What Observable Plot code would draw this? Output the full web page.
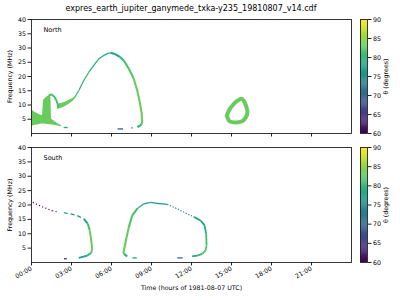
<!DOCTYPE html>
<html><head><meta charset="utf-8">
<script src="https://cdn.jsdelivr.net/npm/d3@7"></script>
<script src="https://cdn.jsdelivr.net/npm/@observablehq/plot@0.6"></script>
<style>
body{margin:0;background:#fff;font-family:"DejaVu Sans",sans-serif;}
#fig{position:relative;width:400px;height:300px;overflow:hidden;background:#fff}
#fig > *{position:absolute}
#title{left:0;top:4px;width:382px;text-align:center;font-size:8px;color:#000;white-space:nowrap}
</style></head><body><div id="fig"><div id="title">expres_earth_jupiter_ganymede_txka-y235_19810807_v14.cdf</div></div>
<script>
// ---------- DATA ----------
const xTicks = [0, 3, 6, 9, 12, 15, 18, 21];
const yTicks = [5, 10, 15, 20, 25, 30, 35, 40];
const cbTicks = [60, 65, 70, 75, 80, 85, 90];
const thetaDomain = [60, 90];

// North: thick blob at start of day
const nBlobT  = [0, 0.15, 0.3, 0.45, 0.6, 0.75, 0.83, 0.9, 1.05, 1.2, 1.35, 1.45, 1.5, 1.7, 1.9, 2.1, 2.25];
const nBlobLo = [2.5, 2.7, 2.9, 3.0, 3.2, 3.3, 3.3, 3.3, 3.3, 3.2, 3.1, 3.1, 3.0, 2.9, 2.7, 2.5, 2.4];
const nBlobHi = [8.4, 7.8, 7.3, 7.0, 6.6, 6.3, 6.3, 11.6, 12.4, 13.0, 13.3, 13.3, 5.0, 4.4, 3.7, 3.1, 2.7];
const nBlobTheta = 83;
// North: hook at the top of the blob
const nHookT = [1.3, 1.5, 1.72, 1.88, 1.97, 2.0];
const nHookF = [13.4, 13.7, 12.9, 11.5, 10.2, 9.2];
const nHookTheta = 81;
// North: band rising out of the hook
const nBandT  = [1.95, 2.2, 2.5, 2.8, 3.1, 3.25];
const nBandLo = [8.4, 8.8, 9.4, 10.2, 11.2, 11.9];
const nBandHi = [10.2, 10.5, 10.9, 11.6, 12.3, 12.7];
const nBandTheta = 83;
// North: big arc
const nArcT = [3.2, 3.55, 3.92, 4.3, 4.67, 5.05, 5.42, 5.75, 5.95, 6.3, 6.62, 6.92, 7.3, 7.67, 7.93, 8.12, 8.25, 8.3, 8.25, 8.12, 7.95];
const nArcF = [12.4, 15.1, 18.6, 21.5, 23.9, 26.2, 27.4, 28.1, 28.3, 27.8, 26.9, 25.6, 22.7, 19.2, 15.1, 11.0, 7.5, 4.0, 3.2, 2.7, 2.3];
const nArcTheta = [81, 80, 80, 79, 79, 78, 78, 77, 77, 78, 80, 81, 82, 83, 83, 83, 83, 83, 80, 78, 76];
// North: short dashes near the bottom
const nDashT1 = [2.45, 6.5, 7.5];
const nDashT2 = [2.75, 6.9, 7.62];
const nDashF  = [2.1, 1.6, 2.0];
const nDashTheta = [78, 68, 76];
// North: ring near 15h
const nRingT = [14.65, 14.85, 15.3, 15.75, 16.05, 16.2, 16.1, 15.95, 15.75, 15.45, 15.1, 14.8, 14.65];
const nRingF = [6.3, 4.3, 3.9, 4.2, 5.5, 7.5, 9.5, 11.3, 12.2, 11.5, 10.0, 8.0, 6.3];
const nRingTheta = 83;

// South: dotted purple trail
const sTrailT = [0.1, 0.5, 0.85, 1.18, 1.55, 1.93];
const sTrailF = [20.9, 20.0, 19.3, 18.7, 18.0, 17.6];
const sTrailTheta = [61, 61, 61, 61, 62, 63];
// South: first curve
const sCurveT = [2.42, 2.93, 3.43, 3.92, 4.22, 4.37, 4.48, 4.55, 4.48, 4.18, 3.55];
const sCurveF = [17.3, 16.9, 16.3, 15.2, 13.5, 11.1, 7.7, 4.8, 3.4, 2.4, 1.6];
const sCurveTheta = [75, 75, 76, 78, 81, 83, 83, 83, 80, 77, 75];
// South: second arc
const sArcT = [7.18, 6.95, 6.9, 6.98, 7.13, 7.3, 7.55, 7.93, 8.42, 8.93, 9.43, 10.18, 10.93, 11.68, 12.2, 12.68, 12.98, 13.1, 13.13, 13.05, 12.8, 12.43, 12.05];
const sArcF = [2.1, 3.0, 3.6, 5.3, 8.8, 12.3, 16.3, 18.7, 20.4, 20.9, 20.6, 20.2, 18.7, 16.9, 15.8, 14.6, 12.9, 10.0, 5.9, 4.2, 3.0, 2.4, 2.1];
const sArcTheta = [79, 83, 83, 83, 83, 82, 81, 79, 77, 76, 76, 75, 75, 75, 76, 77, 79, 81, 82, 82, 80, 78, 77];
// South: short dashes near the bottom
const sDashT1 = [2.48, 7.62, 10.97];
const sDashT2 = [2.68, 7.93, 11.38];
const sDashF  = [1.3, 1.6, 1.6];
const sDashTheta = [62, 77, 71];

// ---------- BUILD ----------
const pts = (T, F, Th) => T.map((t, i) => ({t, f: F[i], theta: Array.isArray(Th) ? Th[i] : Th}));
const band = (T, Lo, Hi, th) => T.map((t, i) => ({t, lo: Lo[i], hi: Hi[i], theta: th}));
const dashes = (A, B, F, Th) => A.map((a, i) => ({t1: a, t2: B[i], f: F[i], theta: Th[i]}));

const color = {type: "linear", scheme: "viridis", domain: thetaDomain};
const font = "DejaVu Sans";
const ink = "#222";
const fmtTime = d => String(d).padStart(2, "0") + ":00";

function lineSeg(rows, w, extra = {}) {
  return Plot.line(rows, {x: "t", y: "f", stroke: "theta", z: null, strokeWidth: w, strokeLinecap: "butt", ...extra});
}

function panel({name, top, height, mt, mb, marks, labels}) {
  const p = Plot.plot({
    width: 400, height, marginLeft: 31, marginRight: 49, marginTop: mt, marginBottom: mb,
    x: {domain: [0, 24]}, y: {domain: [0, 40]}, color,
    style: {fontFamily: font, fontSize: "6.5px", background: "none", color: "#000"},
    marks: [
      ...marks,
      Plot.text([name], {frameAnchor: "top-left", dx: 12, dy: 8, fontSize: 6.5, fill: "#000"}),
      Plot.frame({stroke: ink, strokeWidth: 0.9}),
      Plot.axisY({ticks: yTicks, tickSize: 3.5, tickPadding: 2, stroke: ink, fontSize: 6.3,
        label: "Frequency (MHz)", labelAnchor: "center", labelArrow: "none", labelOffset: 24}),
      labels
        ? Plot.axisX({ticks: xTicks, tickSize: 3.5, tickPadding: 2, stroke: ink, fontSize: 6.3,
            tickFormat: fmtTime, tickRotate: -30,
            label: "Time (hours of 1981-08-07 UTC)", labelAnchor: "center", labelArrow: "none", labelOffset: 27})
        : Plot.axisX({ticks: xTicks, tickSize: 3.5, stroke: ink, tickFormat: () => "", label: null})
    ]
  });
  p.style.left = "0px"; p.style.top = top + "px";
  return p;
}

function colorbar(top, height, mt, mb) {
  const step = 0.25;
  const steps = d3.range(thetaDomain[0], thetaDomain[1], step);
  const p = Plot.plot({
    width: 60, height, marginLeft: 20, marginRight: 33, marginTop: mt, marginBottom: mb,
    x: {domain: [0, 1], axis: null}, y: {domain: thetaDomain}, color,
    style: {fontFamily: font, fontSize: "6.5px", background: "none", color: "#000"},
    marks: [
      Plot.rect(steps, {x1: () => 0, x2: () => 1, y1: d => d, y2: d => Math.min(d + step * 1.3, thetaDomain[1]), fill: d => d + step / 2}),
      Plot.frame({stroke: ink, strokeWidth: 0.9}),
      Plot.axisY({anchor: "right", ticks: cbTicks, tickSize: 3.5, tickPadding: 2, stroke: ink, fontSize: 6.3,
        label: "θ (degrees)", labelAnchor: "center", labelArrow: "none", labelOffset: 20})
    ]
  });
  p.style.left = "340px"; p.style.top = top + "px";
  return p;
}

const arcN = pts(nArcT, nArcF, nArcTheta);
const north = panel({
  name: "North", top: 0, height: 140, mt: 19, mb: 7, labels: false,
  marks: [
    Plot.areaY(band(nBlobT, nBlobLo, nBlobHi, nBlobTheta), {x: "t", y1: "lo", y2: "hi", fill: "theta", z: null}),
    Plot.areaY(band(nBandT, nBandLo, nBandHi, nBandTheta), {x: "t", y1: "lo", y2: "hi", fill: "theta", z: null}),
    lineSeg(pts(nHookT, nHookF, nHookTheta), 1.9),
    lineSeg(arcN.slice(0, 9), 1.3),
    lineSeg(arcN.slice(8), 2.1),
    Plot.line(pts(nRingT, nRingF, nRingTheta), {x: "t", y: "f", stroke: "theta", strokeWidth: 4, curve: "catmull-rom-closed"}),
    Plot.ruleY(dashes(nDashT1, nDashT2, nDashF, nDashTheta), {y: "f", x1: "t1", x2: "t2", stroke: "theta", strokeWidth: 1.3})
  ]
});

const arcS = pts(sArcT, sArcF, sArcTheta);
const curveS = pts(sCurveT, sCurveF, sCurveTheta);
const south = panel({
  name: "South", top: 140, height: 160, mt: 7, mb: 38, labels: true,
  marks: [
    lineSeg(pts(sTrailT, sTrailF, sTrailTheta), 1.2, {strokeDasharray: "1.2,2.2"}),
    lineSeg(curveS.slice(0, 4), 1.2, {strokeDasharray: "4,3"}),
    lineSeg(curveS.slice(3), 2.0),
    lineSeg(arcS.slice(0, 8), 2.1),
    lineSeg(arcS.slice(7, 12), 1.3),
    lineSeg(arcS.slice(11, 15), 1.1, {strokeDasharray: "1.3,1.6"}),
    lineSeg(arcS.slice(14), 1.8),
    Plot.ruleY(dashes(sDashT1, sDashT2, sDashF, sDashTheta), {y: "f", x1: "t1", x2: "t2", stroke: "theta", strokeWidth: 1.3})
  ]
});

const fig = document.getElementById("fig");
fig.append(north, south, colorbar(0, 140, 19, 7), colorbar(140, 160, 7, 38));
</script></body></html>
